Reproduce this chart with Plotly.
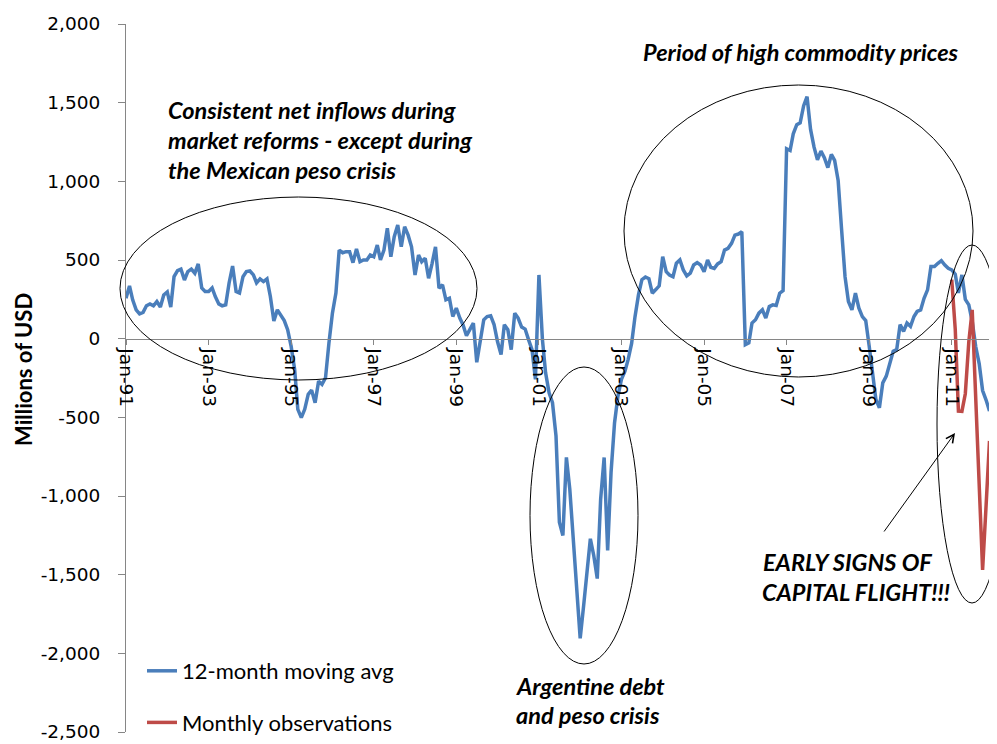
import plotly.graph_objects as go
import pandas as pd

# ---------------- data ----------------
months = pd.date_range("1991-01-01", "2011-12-01", freq="MS")

avg_1991 = [257, 335, 247, 183, 158, 167, 209, 221, 209, 236, 201, 278]
avg_1992 = [297, 201, 394, 432, 442, 373, 426, 442, 416, 475, 322, 300]
avg_1993 = [300, 322, 268, 221, 209, 215, 354, 462, 300, 290, 394, 426]
avg_1994 = [430, 405, 354, 380, 363, 380, 268, 113, 183, 150, 115, 57]
avg_1995 = [-49, -196, -449, -502, -449, -354, -327, -407, -270, -291, -249, -30]
avg_1996 = [162, 290, 563, 546, 553, 553, 483, 570, 489, 500, 500, 532]
avg_1997 = [521, 595, 500, 563, 702, 521, 648, 722, 584, 711, 658, 584]
avg_1998 = [405, 532, 489, 511, 384, 479, 584, 321, 342, 247, 257, 141]
avg_1999 = [194, 131, 89, 19, 57, 99, -150, -6, 120, 141, 146, 90]
avg_2000 = [-20, -101, 89, 57, -70, 162, 131, 74, 61, -6, -70, -259]
avg_2001 = [405, -6, -217, -344, -407, -618, -1166, -1251, -755, -956, -1272, -1589]
avg_2002 = [-1905, -1694, -1483, -1272, -1378, -1525, -1019, -755, -1346, -850, -534, -365]
avg_2003 = [-259, -207, -133, -30, 140, 280, 375, 392, 381, 289, 312, 336]
avg_2004 = [521, 426, 405, 394, 479, 500, 437, 399, 416, 468, 483, 468]
avg_2005 = [426, 500, 454, 447, 475, 489, 563, 574, 606, 658, 665, 679]
avg_2006 = [-38, -27, 99, 120, 162, 183, 131, 204, 215, 211, 289, 306]
avg_2007 = [1207, 1196, 1302, 1360, 1372, 1481, 1538, 1330, 1217, 1137, 1192, 1150]
avg_2008 = [1087, 1171, 1133, 1006, 700, 394, 236, 183, 289, 195, 140, 115]
avg_2009 = [-49, -238, -386, -439, -281, -238, -154, -80, -70, 89, 46, 99]
avg_2010 = [78, 141, 173, 183, 257, 310, 458, 458, 479, 496, 468, 447]
avg_2011 = [437, 410, 290, 405, 250, 215, 110, -50, -160, -330, -390, -460]

moving_avg = (avg_1991 + avg_1992 + avg_1993 + avg_1994 + avg_1995 + avg_1996 + avg_1997
              + avg_1998 + avg_1999 + avg_2000 + avg_2001 + avg_2002 + avg_2003 + avg_2004
              + avg_2005 + avg_2006 + avg_2007 + avg_2008 + avg_2009 + avg_2010 + avg_2011)

obs_months = months[-12:]
monthly_obs = [375, 60, -460, -462, -350, -20, 183, -368, -919, -1470, -1060, -650]

y_tick_values = [2000, 1500, 1000, 500, 0, -500, -1000, -1500, -2000, -2500]
y_tick_labels = ["2,000", "1,500", "1,000", "500", "0", "-500", "-1,000", "-1,500", "-2,000", "-2,500"]

# ---------------- layout helpers ----------------
OFF = 8                      # page body margin offset of the figure in the window
W, H = 997 - OFF, 744 - OFF
L, T = 126 - OFF, 24 - OFF   # plot area left / top (figure coords)
PR, PB = 993 - OFF, 732 - OFF
R, B = W - PR, H - PB
PW, PH = PR - L, PB - T


def px(x):   # screen x -> paper
    return (x - OFF - L) / PW


def py(y):   # screen y -> paper
    return (PB - (y - OFF)) / PH


BLUE = "#4A7EBB"
RED = "#BE4B48"
AXIS = "#868686"
ANN_FONT = dict(family="Lato", size=23.5, color="black", weight="bold", style="italic")
TICK_FONT = dict(family="DejaVu Sans", size=18.5, color="black")

fig = go.Figure()
fig.add_trace(go.Scatter(x=months, y=moving_avg, mode="lines", name="12-month moving avg",
                         line=dict(color=BLUE, width=3.5), legendgroup="a"))
fig.add_trace(go.Scatter(x=obs_months, y=monthly_obs, mode="lines", name="Monthly observations",
                         line=dict(color=RED, width=3.5), legendgroup="b"))

shapes = []
for (x0, x1, y0, y1) in [(120, 477, 197, 380), (530, 638, 367, 664),
                         (624, 973, 85, 377), (937, 1007, 245, 603)]:
    shapes.append(dict(type="circle", xref="paper", yref="paper",
                       x0=px(x0), x1=px(x1), y0=py(y1), y1=py(y0),
                       line=dict(color="black", width=1), layer="above"))

annotations = []
texts = [
    ("Consistent net inflows during", 166, 110),
    ("market reforms - except during", 166, 140),
    ("the Mexican peso crisis", 166, 170),
    ("Period of high commodity prices", 641, 52),
    ("Argentine debt", 514, 686),
    ("and peso crisis", 514, 715),
    ("EARLY SIGNS OF", 761, 562),
    ("CAPITAL FLIGHT!!!", 760, 592),
]
for t, x, y in texts:
    annotations.append(dict(text=t, xref="paper", yref="paper", x=px(x), y=py(y),
                            xanchor="left", yanchor="middle", showarrow=False, font=ANN_FONT))

# arrow
annotations.append(dict(text="", xref="paper", yref="paper", x=px(955), y=py(433),
                        ax=883 - 955, ay=533 - 433, showarrow=True, arrowhead=5,
                        arrowsize=1.6, arrowwidth=1, arrowcolor="black"))

# y-axis title
annotations.append(dict(text="<b>Millions of USD</b>", xref="paper", yref="paper",
                        x=px(23), y=py(370), textangle=-90, showarrow=False,
                        xanchor="center", yanchor="middle",
                        font=dict(family="Lato", size=22, color="black")))

fig.update_layout(
    width=W, height=H,
    margin=dict(l=L, r=R, t=T, b=B, autoexpand=False),
    paper_bgcolor="white", plot_bgcolor="white",
    showlegend=True,
    legend=dict(x=px(142), y=py(650), xanchor="left", yanchor="top",
                font=dict(family="Lato", size=22, color="black"),
                bgcolor="rgba(0,0,0,0)", traceorder="grouped", tracegroupgap=20,
                itemwidth=30),
    shapes=shapes,
    annotations=annotations,
    xaxis=dict(type="date", range=["1991-01-01", "2012-01-01"],
               tick0="1991-01-01", dtick="M24", tickformat="%b-%y", tickangle=90,
               showgrid=False, zeroline=False, showline=True, linecolor=AXIS, linewidth=1,
               ticks="outside", ticklen=5, tickcolor=AXIS,
               anchor="free", position=2500 / 4500,
               tickfont=TICK_FONT),
    yaxis=dict(range=[-2500, 2000], tickvals=y_tick_values, ticktext=y_tick_labels,
               showgrid=False, zeroline=False, showline=True, linecolor=AXIS, linewidth=1,
               ticks="outside", ticklen=7, tickcolor=AXIS, ticklabelstandoff=14,
               tickfont=TICK_FONT),
)

fig.write_html("out.html")
